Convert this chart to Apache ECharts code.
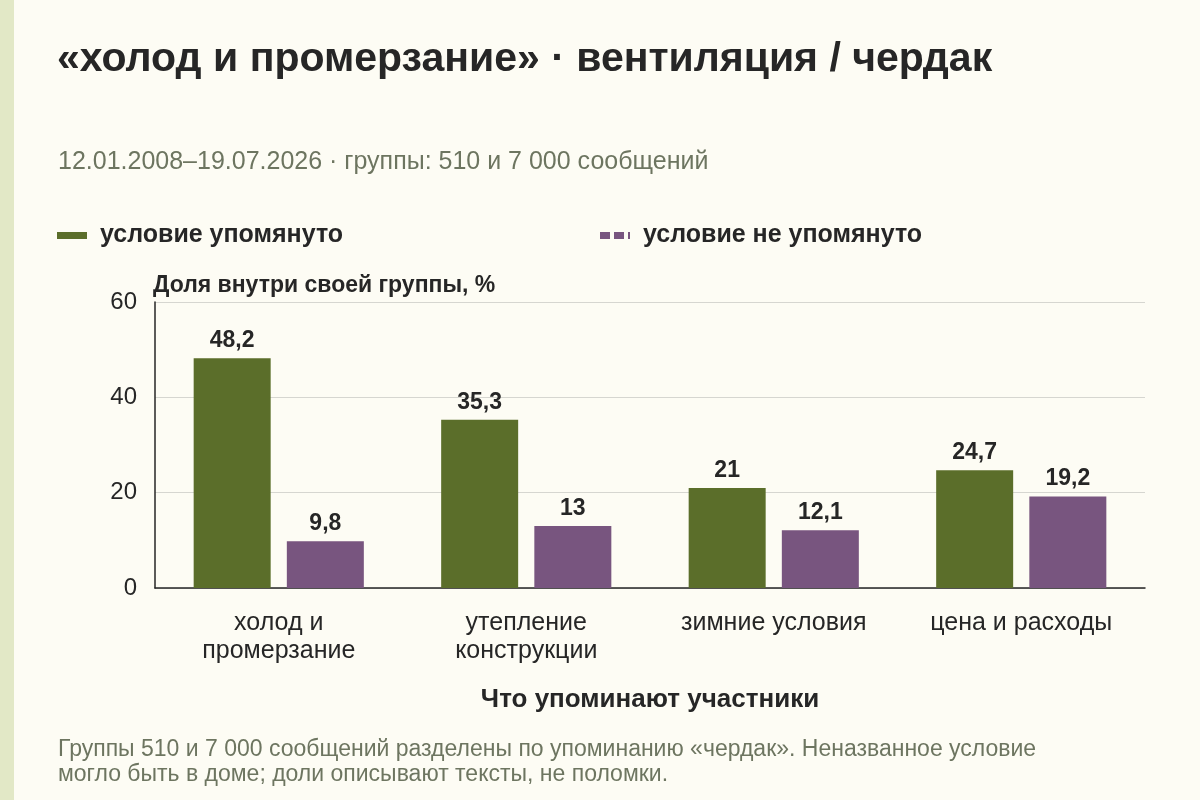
<!DOCTYPE html>
<html><head><meta charset="utf-8">
<script src="https://cdn.jsdelivr.net/npm/echarts@6/dist/echarts.min.js"></script>
<style>html,body{margin:0;padding:0;background:#fdfcf4;}#c{width:1200px;height:800px;}</style>
</head><body><div id="c"></div>
<script>
const categories = ['холод и\nпромерзание', 'утепление\nконструкции', 'зимние условия', 'цена и расходы'];
const mentioned = [48.2, 35.3, 21, 24.7];
const notMentioned = [9.8, 13, 12.1, 19.2];
const seriesNames = ['условие упомянуто', 'условие не упомянуто'];

const chart = echarts.init(document.getElementById('c'));
const fmt = p => String(p.value).replace('.', ',');
const FF = '"Liberation Sans", Arial, sans-serif';
chart.setOption({
  backgroundColor: '#fdfcf4',
  animation: false,
  textStyle: { fontFamily: 'Liberation Sans, Arial, sans-serif' },
  graphic: [
    { type: 'rect', left: 0, top: 0, shape: { width: 14, height: 800 }, style: { fill: '#e2e8c6' } },
    { type: 'text', left: 57, top: 39, style: { text: '«холод и промерзание» · вентиляция / чердак', font: 'bold 41px ' + FF, fill: '#262626' } },
    { type: 'text', left: 58, top: 150, style: { text: '12.01.2008–19.07.2026 · группы: 510 и 7 000 сообщений', font: '25px ' + FF, fill: '#6d7560' } },
    { type: 'text', left: 58, top: 737, style: { text: 'Группы 510 и 7 000 сообщений разделены по упоминанию «чердак». Неназванное условие\nмогло быть в доме; доли описывают тексты, не поломки.', font: '23px ' + FF, fill: '#6d7560', lineHeight: 25 } }
  ],
  legend: [
    { left: 52, top: 218, itemWidth: 30, itemHeight: 7, itemGap: 10, data: [{ name: seriesNames[0], icon: 'rect' }],
      textStyle: { fontSize: 25, fontWeight: 'bold', color: '#262626', padding: [0,0,0,8] } },
    { left: 595, top: 218, itemWidth: 30, itemHeight: 7, data: [{ name: seriesNames[1], icon: 'path://M0,0h10v7h-10z M14,0h10v7h-10z M28,0h2v7h-2z' }],
      textStyle: { fontSize: 25, fontWeight: 'bold', color: '#262626', padding: [0,0,0,8] } }
  ],
  grid: { left: 155, right: 55, top: 302, bottom: 212 },
  xAxis: {
    type: 'category', data: categories,
    name: 'Что упоминают участники', nameLocation: 'middle', nameGap: 99,
    nameTextStyle: { fontSize: 26, fontWeight: 'bold', color: '#262626' },
    axisLine: { lineStyle: { color: '#262626', width: 1.5 } },
    axisTick: { alignWithLabel: true, length: 6, lineStyle: { color: '#262626' } },
    axisLabel: { fontSize: 25, color: '#262626', margin: 21, lineHeight: 28, interval: 0 }
  },
  yAxis: {
    type: 'value', min: 0, max: 60, interval: 20,
    name: 'Доля внутри своей группы, %', nameLocation: 'end', nameGap: 5,
    nameTextStyle: { fontSize: 23, fontWeight: 'bold', color: '#262626', align: 'left', padding: [0,0,0,-2] },
    axisLine: { show: true, lineStyle: { color: '#262626', width: 1.5 } },
    axisTick: { show: false },
    axisLabel: { fontSize: 24, color: '#262626', margin: 18 },
    splitLine: { lineStyle: { color: '#d6d6d0', width: 1 } }
  },
  series: [
    { name: seriesNames[0], type: 'bar', data: mentioned, barWidth: 77, barGap: '21%',
      itemStyle: { color: '#5b6e2a' },
      label: { show: true, position: 'top', distance: 6, fontSize: 23, fontWeight: 'bold', color: '#262626', formatter: fmt } },
    { name: seriesNames[1], type: 'bar', data: notMentioned, barWidth: 77,
      itemStyle: { color: '#78557f' },
      label: { show: true, position: 'top', distance: 6, fontSize: 23, fontWeight: 'bold', color: '#262626', formatter: fmt } }
  ]
});
</script></body></html>
